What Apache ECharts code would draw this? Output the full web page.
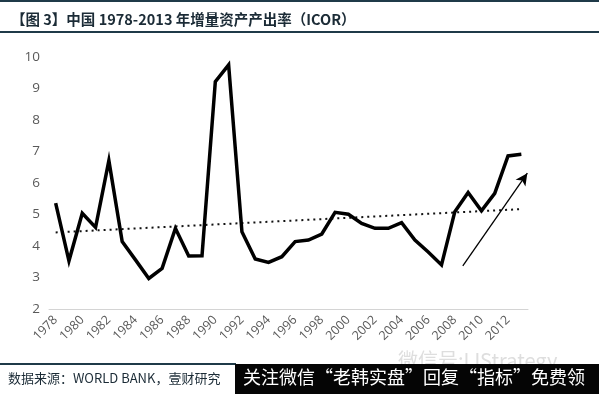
<!DOCTYPE html>
<html><head><meta charset="utf-8">
<script src="https://cdn.jsdelivr.net/npm/echarts@6/dist/echarts.min.js"></script>
<style>html,body{margin:0;padding:0;background:#fff}#c{width:599px;height:394px}</style>
</head><body><div id="c"></div>
<script>
const years = [];
for (let y = 1978; y <= 2013; y++) years.push(String(y));
const icor = [5.36, 3.53, 5.04, 4.59, 6.71, 4.14, 3.56, 2.97, 3.29, 4.56, 3.68, 3.69,
  9.22, 9.75, 4.45, 3.59, 3.48, 3.66, 4.14, 4.19, 4.38, 5.07, 5.01, 4.72, 4.56, 4.56,
  4.74, 4.19, 3.81, 3.40, 5.09, 5.70, 5.12, 5.67, 6.86, 6.91];
const trendStart = 4.43, trendEnd = 5.17;
const arrowFrom = [2008.6, 3.37], arrowTo = [2013.45, 6.31];
const yTicks = [2, 10, 1];

const trend = years.map((y, i) => i === 0 ? trendStart : (i === years.length - 1 ? trendEnd : null));

const chart = echarts.init(document.getElementById('c'), null, {renderer: 'canvas'});
const cjk = '"Noto Sans CJK SC", "Noto Sans", sans-serif';
chart.setOption({
  animation: false,
  backgroundColor: '#fff',
  grid: {left: 49, right: 71, top: 57, bottom: 85, containLabel: false},
  xAxis: [{
    type: 'category', data: years, boundaryGap: true,
    axisLine: {lineStyle: {color: '#d4d4d4', width: 1}},
    axisTick: {show: false},
    axisLabel: {interval: 1, rotate: 45, color: '#595959', fontSize: 12.5, fontFamily: '"Open Sans", sans-serif', margin: 9}
  }, {
    type: 'value', min: 1977.5, max: 2013.5, show: false
  }],
  yAxis: {
    type: 'value', min: yTicks[0], max: yTicks[1], interval: yTicks[2],
    axisLine: {show: false}, axisTick: {show: false}, splitLine: {show: false},
    axisLabel: {color: '#595959', fontSize: 13.5, fontFamily: '"Open Sans", sans-serif', margin: 9}
  },
  title: {
    text: '【图 3】中国 1978-2013 年增量资产产出率（ICOR）',
    left: 6, top: 7,
    textStyle: {fontSize: 14.5, fontWeight: 'bold', color: '#1b2b36', fontFamily: cjk}
  },
  series: [{
    type: 'line', data: icor, symbol: 'none',
    lineStyle: {color: '#000', width: 3.5, join: 'miter'}, z: 3
  }, {
    type: 'line', data: trend, connectNulls: true, symbol: 'none',
    lineStyle: {color: '#111', width: 2, type: [2, 4]}, z: 2
  }, {
    type: 'line', xAxisIndex: 1, data: [arrowFrom, arrowTo], symbol: 'none',
    lineStyle: {color: '#000', width: 0, opacity: 0},
    markLine: {
      silent: true, symbol: ['none', 'arrow'], symbolSize: [9, 12], label: {show: false},
      lineStyle: {color: '#000', width: 1.3, type: 'solid'},
      data: [[{coord: arrowFrom}, {coord: arrowTo}]]
    }
  }],
  graphic: [
    {type: 'rect', shape: {x: 0, y: 0, width: 599, height: 2}, style: {fill: '#1f3a48'}},
    {type: 'rect', shape: {x: 0, y: 31, width: 599, height: 2}, style: {fill: '#1f3a48'}},
    {type: 'text', left: 398, top: 350, style: {text: '微信号:IJStrategy', fill: '#dedede', font: '20px ' + cjk}},
    {type: 'rect', shape: {x: 0, y: 363, width: 236, height: 2}, style: {fill: '#1f3a48'}},
    {type: 'text', left: 8, top: 372, style: {text: '数据来源：WORLD BANK，壹财研究', fill: '#1b2b36', font: '13px ' + cjk}},
    {type: 'rect', shape: {x: 235, y: 364, width: 364, height: 30}, style: {fill: '#050505'}},
    {type: 'text', left: 243, top: 368, style: {text: '关注微信“老韩实盘”回复“指标”免费领', fill: '#fff', font: '18px ' + cjk}}
  ]
});
</script></body></html>
